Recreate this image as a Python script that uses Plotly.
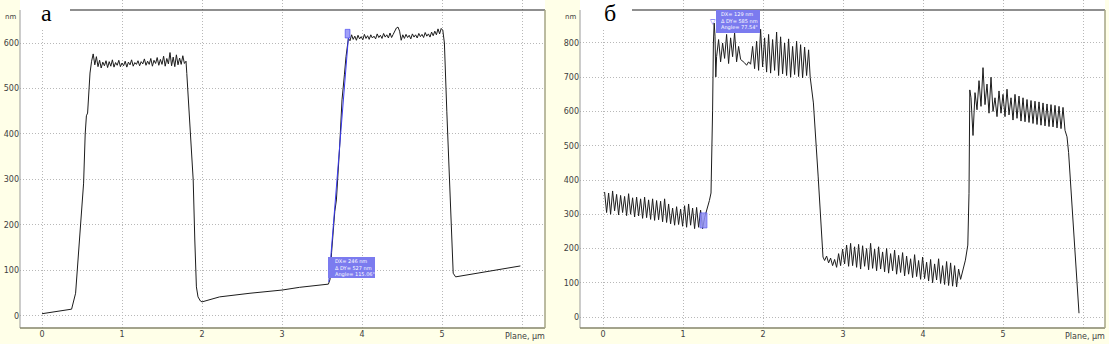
import plotly.graph_objects as go

W, H = 1109, 344

# ---------------- panel "а" profile (x in µm, height in nm) ----------------
a_x = [0.00, 0.37, 0.42, 0.47, 0.52, 0.54, 0.555, 0.57, 0.60, 0.62,
       0.64, 0.66, 0.68, 0.70, 0.72, 0.74, 0.76, 0.78, 0.80, 0.82, 0.84, 0.86, 0.88, 0.90, 0.92,
       0.94, 0.96, 0.98, 1.00, 1.02, 1.04, 1.06, 1.08, 1.10, 1.12, 1.14, 1.16, 1.18, 1.20, 1.22,
       1.24, 1.26, 1.28, 1.30, 1.32, 1.34, 1.36, 1.38, 1.40, 1.42, 1.44, 1.46, 1.48, 1.50, 1.52,
       1.54, 1.56, 1.58, 1.60, 1.62, 1.64, 1.66, 1.68, 1.70, 1.72, 1.74, 1.76, 1.78,
       1.80, 1.81, 1.85, 1.89, 1.91, 1.93, 1.95, 1.98, 2.00,
       2.22, 2.60, 3.00, 3.22, 3.58,
       3.60, 3.62, 3.66, 3.68, 3.72, 3.75, 3.78, 3.80, 3.83,
       3.85, 3.87, 3.89, 3.91, 3.93, 3.95, 3.97, 3.99, 4.01, 4.03, 4.05, 4.07, 4.09, 4.11, 4.13,
       4.15, 4.17, 4.19, 4.21, 4.23, 4.25, 4.27, 4.29, 4.31, 4.33, 4.35, 4.37, 4.39, 4.41, 4.43,
       4.45, 4.47, 4.49, 4.51, 4.53, 4.55, 4.57, 4.59, 4.61, 4.63, 4.65, 4.67, 4.69, 4.71, 4.73,
       4.75, 4.77, 4.79, 4.81, 4.83, 4.85, 4.87, 4.89, 4.91, 4.93, 4.95, 4.97, 4.99,
       5.01, 5.03, 5.06, 5.10, 5.14, 5.17, 5.50, 5.98]
a_y = [5, 15, 50, 167, 292, 400, 440, 446, 534, 560,
       576, 552, 570, 548, 562, 545, 558, 550, 561, 546,
       559, 549, 563, 547, 557, 551, 562, 548, 556, 550,
       560, 547, 558, 552, 563, 549, 557, 553, 561, 550,
       559, 554, 565, 551, 560, 553, 566, 549, 562, 555,
       568, 551, 564, 553, 571, 549, 566, 554, 579, 550,
       569, 548, 574, 552, 567, 553, 572, 555,
       560, 533, 424, 299, 167, 64, 42, 33, 31,
       42, 50, 57, 63, 70,
       80, 140, 230, 255, 370, 475, 530, 570, 610,
       605, 618, 608, 615, 606, 617, 609, 614, 607, 619,
       610, 616, 608, 618, 611, 615, 609, 620, 612, 617,
       610, 621, 613, 618, 611, 622, 612, 619, 626, 633,
       635, 626, 606, 618, 610, 619, 612, 617, 609, 620,
       613, 618, 611, 621, 614, 619, 612, 623, 615, 620,
       613, 624, 616, 626, 618, 631, 620, 632,
       628, 600, 450, 255, 94, 86, 96, 110]

# ---------------- panel "б" profile ----------------
b_x = [0.020, 0.045, 0.070, 0.095, 0.120, 0.145, 0.170, 0.195, 0.220, 0.245,
       0.270, 0.295, 0.320, 0.345, 0.370, 0.395, 0.420, 0.445, 0.470, 0.495,
       0.520, 0.545, 0.570, 0.595, 0.620, 0.645, 0.670, 0.695, 0.720, 0.745,
       0.770, 0.795, 0.820, 0.845, 0.870, 0.895, 0.920, 0.945, 0.970, 0.995,
       1.020, 1.045, 1.070, 1.095, 1.120, 1.145, 1.170, 1.195, 1.220, 1.245,
       1.27, 1.30, 1.33, 1.35, 1.36, 1.37, 1.38, 1.39, 1.40, 1.41,
       1.420, 1.445, 1.470, 1.495, 1.520, 1.545, 1.570, 1.595, 1.620, 1.645,
       1.670, 1.695, 1.720, 1.745, 1.770, 1.795, 1.820, 1.845, 1.870, 1.895,
       1.920, 1.945, 1.970, 1.995, 2.020, 2.045, 2.070, 2.095, 2.120, 2.145,
       2.170, 2.195, 2.220, 2.245, 2.270, 2.295, 2.320, 2.345, 2.370, 2.395,
       2.420, 2.445, 2.470, 2.495, 2.520, 2.545, 2.570,
       2.59, 2.63, 2.69, 2.75,
       2.770, 2.795, 2.820, 2.845, 2.870, 2.895, 2.920, 2.945, 2.970, 2.995,
       3.020, 3.045, 3.070, 3.095, 3.120, 3.145, 3.170, 3.195, 3.220, 3.245,
       3.270, 3.295, 3.320, 3.345, 3.370, 3.395, 3.420, 3.445, 3.470, 3.495,
       3.520, 3.545, 3.570, 3.595, 3.620, 3.645, 3.670, 3.695, 3.720, 3.745,
       3.770, 3.795, 3.820, 3.845, 3.870, 3.895, 3.920, 3.945, 3.970, 3.995,
       4.020, 4.045, 4.070, 4.095, 4.120, 4.145, 4.170, 4.195, 4.220, 4.245,
       4.270, 4.295, 4.320, 4.345, 4.370, 4.395, 4.420, 4.445,
       4.47, 4.50, 4.53, 4.56, 4.575, 4.585,
       4.600, 4.625, 4.650, 4.675, 4.700, 4.725, 4.750, 4.775, 4.800, 4.825,
       4.850, 4.875, 4.900, 4.925, 4.950, 4.975, 5.000, 5.025, 5.050, 5.075,
       5.100, 5.125, 5.150, 5.175, 5.200, 5.225, 5.250, 5.275, 5.300, 5.325,
       5.350, 5.375, 5.400, 5.425, 5.450, 5.475, 5.500, 5.525, 5.550, 5.575,
       5.600, 5.625, 5.650, 5.675, 5.700, 5.725, 5.750, 5.775,
       5.80, 5.82, 5.88, 5.95]
b_y = [365, 305, 362, 300, 368, 310, 358, 298, 355, 305,
       352, 296, 360, 300, 348, 292, 350, 295, 345, 288,
       350, 290, 342, 285, 345, 282, 340, 284, 338, 278,
       345, 276, 330, 272, 318, 268, 322, 270, 315, 265,
       325, 262, 330, 268, 318, 258, 320, 262, 312, 258,
       290, 312, 340, 362, 450, 604, 800, 858, 820, 701,
       760, 810, 745, 800, 755, 825, 740, 815, 760, 830,
       745, 790, 752, 748, 742, 735, 745, 738, 790, 725,
       805, 720, 840, 730, 815, 715, 825, 712, 810, 720,
       832, 705, 818, 710, 800, 705, 812, 700, 790, 708,
       805, 702, 795, 698, 788, 705, 780,
       700, 625, 409, 175,
       165, 178, 158, 172, 150, 168, 145, 185, 150, 198,
       155, 210, 148, 215, 150, 205, 145, 212, 140, 208,
       148, 200, 138, 215, 142, 198, 135, 205, 140, 190,
       132, 200, 128, 185, 135, 195, 125, 180, 130, 188,
       120, 178, 125, 170, 115, 182, 118, 165, 110, 175,
       112, 160, 105, 168, 100, 155, 108, 170, 98, 150,
       95, 162, 92, 158, 90, 150, 88, 140,
       110, 140, 166, 210, 361, 663,
       640, 530, 655, 605, 690, 615, 728, 620, 680, 595,
       700, 600, 640, 585, 660, 595, 650, 585, 665, 590,
       640, 575, 650, 580, 645, 572, 640, 570, 635, 568,
       632, 565, 630, 562, 628, 560, 625, 558, 622, 556,
       620, 555, 618, 552, 615, 550, 612, 545,
       526, 480, 250, 11]

x_ticks = [0, 1, 2, 3, 4, 5, 6]
x_ticktext = ["0", "1", "2", "3", "4", "5", ""]
a_yticks = [0, 100, 200, 300, 400, 500, 600]
b_yticks = [0, 100, 200, 300, 400, 500, 600, 700, 800]

# measurement overlays (instrument's cursor readouts)
a_meas = dict(x0=3.585, y0=75, x1=3.83, y1=612, text=["DX= 246 nm", "Δ DY= 527 nm", "Angle= 115.06°"])
b_meas = dict(text=["DX= 129 nm", "Δ DY= 585 nm", "Angle= 77.54°"])

LINE = "#1c1c1c"
GRID = "#b8b8b8"
TICKFONT = dict(family="DejaVu Sans", size=8, color="#404040")
BLUE = "#3a3af0"
BOXFILL = "#7b7bef"

fig = go.Figure()
fig.add_trace(go.Scatter(x=a_x, y=a_y, mode="lines", line=dict(color=LINE, width=1),
                         xaxis="x", yaxis="y", hoverinfo="skip"))
fig.add_trace(go.Scatter(x=b_x, y=b_y, mode="lines", line=dict(color=LINE, width=1),
                         xaxis="x2", yaxis="y2", hoverinfo="skip"))


def xdom(p0, p1):
    return [p0 / W, p1 / W]


axis_common = dict(showgrid=True, gridcolor=GRID, griddash="1px,2px", gridwidth=1,
                   zeroline=False, showline=False, ticks="", tickfont=TICKFONT,
                   fixedrange=True, automargin=False)

fig.update_layout(
    width=W, height=H, margin=dict(l=0, r=0, t=0, b=0, autoexpand=False),
    paper_bgcolor="#FFFFE8", plot_bgcolor="white", showlegend=False,
    xaxis=dict(domain=xdom(20, 545), range=[-0.275, 6.2875], anchor="y",
               tickvals=x_ticks, ticktext=x_ticktext, **axis_common),
    yaxis=dict(domain=[16 / H, 1], range=[-26.4, 694.5], anchor="x",
               tickvals=a_yticks, **axis_common),
    xaxis2=dict(domain=xdom(580, 1105), range=[-0.2875, 6.275], anchor="y2",
                tickvals=x_ticks, ticktext=x_ticktext, **axis_common),
    yaxis2=dict(domain=[16 / H, 1], range=[-32.1, 925.5], anchor="x2",
                tickvals=b_yticks, **axis_common),
)


def P(xp, yp):
    return xp / W, 1 - yp / H


shapes = []
annotations = []
for (left, right, lab_left, lab_right, letter, lx) in [(20, 545, 20, 70, "а", 46), (580, 1105, 580, 632, "б", 610)]:
    # white cover for label area
    x0, y0 = P(lab_left + 1, 0)
    x1, y1 = P(lab_right, 28)
    shapes.append(dict(type="rect", xref="paper", yref="paper", x0=x0, y0=y0, x1=x1, y1=y1,
                       fillcolor="white", line=dict(width=0), layer="above"))
    # top black line
    x0, y0 = P(lab_right, 10)
    x1, _ = P(right, 10)
    shapes.append(dict(type="line", xref="paper", yref="paper", x0=x0, y0=y0, x1=x1, y1=y0,
                       line=dict(color="#202020", width=1.2), layer="above"))
    # left axis line
    x0, y0 = P(left, 10)
    _, y1 = P(left, 328)
    shapes.append(dict(type="line", xref="paper", yref="paper", x0=x0, y0=y0, x1=x0, y1=y1,
                       line=dict(color="#9a9a9a", width=1), layer="above"))
    # bottom axis line
    x0, y0 = P(left, 328)
    x1, _ = P(right, 328)
    shapes.append(dict(type="line", xref="paper", yref="paper", x0=x0, y0=y0, x1=x1, y1=y0,
                       line=dict(color="#85856a", width=1.5), layer="above"))
    # right border
    x0, y0 = P(right, 10)
    _, y1 = P(right, 328)
    shapes.append(dict(type="line", xref="paper", yref="paper", x0=x0, y0=y0, x1=x0, y1=y1,
                       line=dict(color="#a5a585", width=1.5), layer="above"))
    # letter
    ax, ay = P(lx, 13)
    annotations.append(dict(text=letter, xref="paper", yref="paper", x=ax, y=ay, showarrow=False,
                            font=dict(family="Liberation Serif", size=24, color="black"),
                            xanchor="center", yanchor="middle", borderpad=0))
    # nm label
    ax, ay = P(left - 10, 17)
    annotations.append(dict(text="nm", xref="paper", yref="paper", x=ax, y=ay, showarrow=False,
                            font=dict(family="DejaVu Sans", size=7, color="#404040"),
                            xanchor="center", yanchor="middle"))
    # Plane, µm
    ax, ay = P(right + 2, 336)
    annotations.append(dict(text="Plane, µm", xref="paper", yref="paper", x=ax, y=ay, showarrow=False,
                            font=dict(family="DejaVu Sans", size=8, color="#404040"),
                            xanchor="right", yanchor="middle"))

# panel а measurement overlay
shapes.append(dict(type="line", xref="x", yref="y", x0=a_meas["x0"], y0=a_meas["y0"],
                   x1=a_meas["x1"], y1=a_meas["y1"], line=dict(color=BLUE, width=1)))
shapes.append(dict(type="rect", xref="x", yref="y", x0=3.79, y0=611, x1=3.85, y1=630,
                   fillcolor="#a0a0f8", line=dict(color=BLUE, width=0.6)))
shapes.append(dict(type="rect", xref="x", yref="y", x0=3.575, y0=83.5, x1=4.1625, y1=129.7,
                   fillcolor=BOXFILL, line=dict(width=0), layer="above"))
for i, t in enumerate(a_meas["text"]):
    annotations.append(dict(text=t, xref="x", yref="y", x=3.64, y=121 - i * 14.5, showarrow=False,
                            xanchor="left", yanchor="middle",
                            font=dict(family="DejaVu Sans", size=5, color="white")))

# panel б measurement overlay
shapes.append(dict(type="rect", xref="x2", yref="y2", x0=1.4125, y0=829, x1=1.9625, y1=896,
                   fillcolor=BOXFILL, line=dict(width=0), layer="above"))
shapes.append(dict(type="rect", xref="x2", yref="y2", x0=1.2125, y0=260, x1=1.30, y1=304,
                   fillcolor="#9090f4", line=dict(color=BLUE, width=0.6), opacity=0.85))
annotations.append(dict(text="▽", xref="x2", yref="y2", x=1.375, y=862, showarrow=False,
                        font=dict(size=7, color=BLUE)))
for i, t in enumerate(b_meas["text"]):
    annotations.append(dict(text=t, xref="x2", yref="y2", x=1.70 - (0.0 if i else 0.03), y=884 - i * 19,
                            showarrow=False, xanchor="center", yanchor="middle",
                            font=dict(family="DejaVu Sans", size=5, color="white")))

fig.update_layout(shapes=shapes, annotations=annotations)
fig.write_html("out.html", config={"displayModeBar": False, "staticPlot": True},
               post_script="document.body.style.margin='0';document.body.style.padding='0';"
                           "document.body.style.overflow='hidden';")
